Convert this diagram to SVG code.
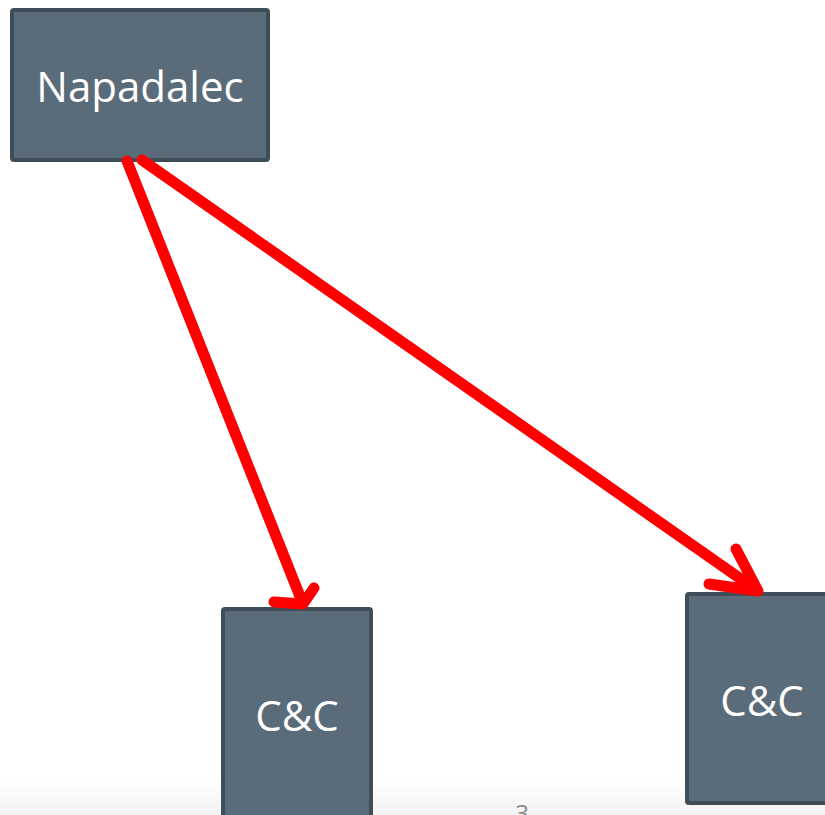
<svg xmlns="http://www.w3.org/2000/svg" width="825" height="815" viewBox="0 0 825 815">
  <defs>
    <linearGradient id="footer" x1="0" y1="0" x2="0" y2="1">
      <stop offset="0" stop-color="#ffffff"/>
      <stop offset="1" stop-color="#f2f2f2"/>
    </linearGradient>
    <style>
      .box { fill: #5a6b7a; stroke: #3e4d58; stroke-width: 4; }
      .label { fill: #ffffff; font-family: "Open Sans", "Liberation Sans", sans-serif; font-size: 42px; text-anchor: middle; }
      .edge { fill: none; stroke: #ff0000; stroke-width: 11; stroke-linecap: round; stroke-linejoin: round; }
      .page { fill: #8a8a8a; font-family: "Open Sans", "Liberation Sans", sans-serif; font-size: 24px; text-anchor: middle; }
    </style>
  </defs>
  <rect width="825" height="815" fill="#ffffff"/>
  <rect x="0" y="780" width="825" height="35" fill="url(#footer)"/>
  <text class="page" x="522" y="822">3</text>

  <g id="node-napadalec">
    <rect class="box" x="12" y="10" width="256" height="150" rx="2"/>
    <text class="label" x="140" y="102">Napadalec</text>
  </g>
  <g id="node-cc-1">
    <rect class="box" x="223" y="609" width="148" height="220" rx="2"/>
    <text class="label" x="297" y="731">C&amp;C</text>
  </g>
  <g id="node-cc-2">
    <rect class="box" x="687" y="594" width="150" height="209" rx="2"/>
    <text class="label" x="762" y="716">C&amp;C</text>
  </g>

  <g id="connectors">
    <path class="edge" d="M127,161 L303,604 M274,602 L303,604 L314,588"/>
    <path class="edge" d="M142,160 L758,591 M709,584 L758,591 L736,549"/>
  </g>
</svg>
